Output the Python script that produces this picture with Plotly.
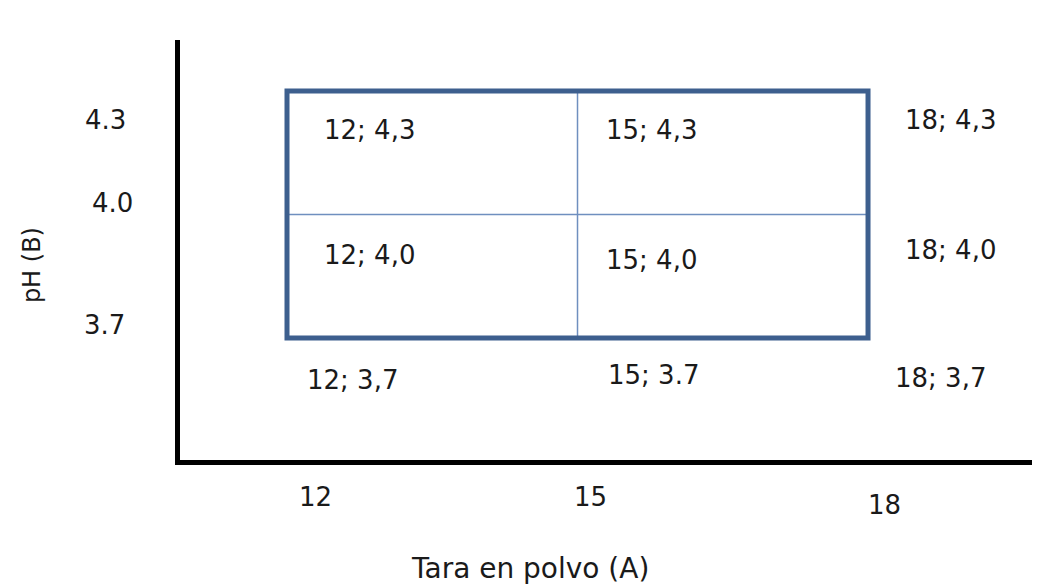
import plotly.graph_objects as go

# ---- data (design levels and labels) ----
A_levels = [12, 15, 18]
B_levels = [4.3, 4.0, 3.7]
A_tick_labels = ["12", "15", "18"]
B_tick_labels = ["4.3", "4.0", "3.7"]

cell_A = [12, 15, 18, 12, 15, 18, 12, 15, 18]
cell_B = [4.3, 4.3, 4.3, 4.0, 4.0, 4.0, 3.7, 3.7, 3.7]
cell_text = ["12; 4,3", "15; 4,3", "18; 4,3",
             "12; 4,0", "15; 4,0", "18; 4,0",
             "12; 3,7", "15; 3.7", "18; 3,7"]

x_title = "Tara en polvo (A)"
y_title = "pH (B)"

# ---- styling / placement (pixel offsets) ----
FONT = "DejaVu Sans, sans-serif"
TXT = "#1a1a1a"
cell_dx = [35, 26, 35, 35, 26, 35, 18, 28, 25]
cell_dy = [-39, -39, -29, -40, -45, -35, -42, -37, -40]
xtick_dx = [28, 13, 16]
xtick_dy = [-37, -37, -45]
ytick_dx = [-75, -68, -76]
ytick_dy = [-29, 12, 13]

fig = go.Figure()
# invisible trace to anchor the axes
fig.add_trace(go.Scatter(x=cell_A, y=cell_B, mode="markers",
                         marker=dict(opacity=0), hoverinfo="skip", showlegend=False))

# outer design rectangle
fig.add_shape(type="rect", x0=min(A_levels), x1=max(A_levels),
              y0=min(B_levels), y1=max(B_levels),
              line=dict(color="#3D5F8E", width=5), layer="above")
# inner dividing lines
fig.add_shape(type="line", x0=A_levels[1], x1=A_levels[1],
              y0=min(B_levels), y1=max(B_levels),
              line=dict(color="#6F8FBF", width=1.5), layer="below")
fig.add_shape(type="line", x0=min(A_levels), x1=max(A_levels),
              y0=B_levels[1], y1=B_levels[1],
              line=dict(color="#6F8FBF", width=1.5), layer="below")

ann = []
for a, b, t, dx, dy in zip(cell_A, cell_B, cell_text, cell_dx, cell_dy):
    ann.append(dict(x=a, y=b, xref="x", yref="y", text=t, showarrow=False,
                    xanchor="left", yanchor="middle", xshift=dx, yshift=dy,
                    font=dict(family=FONT, size=26, color=TXT)))
for a, t, dx, dy in zip(A_levels, A_tick_labels, xtick_dx, xtick_dy):
    ann.append(dict(x=a, y=0, xref="x", yref="paper", text=t, showarrow=False,
                    xanchor="center", yanchor="middle", xshift=dx, yshift=dy,
                    font=dict(family=FONT, size=26, color=TXT)))
for b, t, dx, dy in zip(B_levels, B_tick_labels, ytick_dx, ytick_dy):
    ann.append(dict(x=0, y=b, xref="paper", yref="y", text=t, showarrow=False,
                    xanchor="center", yanchor="middle", xshift=dx, yshift=dy,
                    font=dict(family=FONT, size=26, color=TXT)))
ann.append(dict(x=0.407, y=0, xref="paper", yref="paper", text=x_title,
                showarrow=False, xanchor="center", yanchor="middle", yshift=-108,
                font=dict(family=FONT, size=28, color=TXT)))
ann.append(dict(x=0, y=0.464, xref="paper", yref="paper", text=y_title,
                showarrow=False, xanchor="center", yanchor="middle", xshift=-148,
                textangle=-90, font=dict(family=FONT, size=24, color=TXT)))

# page body has an 8px margin, so the figure is sized/placed to compensate
fig.update_layout(
    width=1032, height=576,
    margin=dict(l=172, r=0, t=32, b=124),
    paper_bgcolor="white", plot_bgcolor="white",
    annotations=ann,
    xaxis=dict(range=[10.895, 19.776], showgrid=False, zeroline=False,
               showticklabels=False, ticks="", showline=True,
               linecolor="black", linewidth=5),
    yaxis=dict(range=[3.4036, 4.424], showgrid=False, zeroline=False,
               showticklabels=False, ticks="", showline=True,
               linecolor="black", linewidth=5),
)

fig.write_html("out.html")
